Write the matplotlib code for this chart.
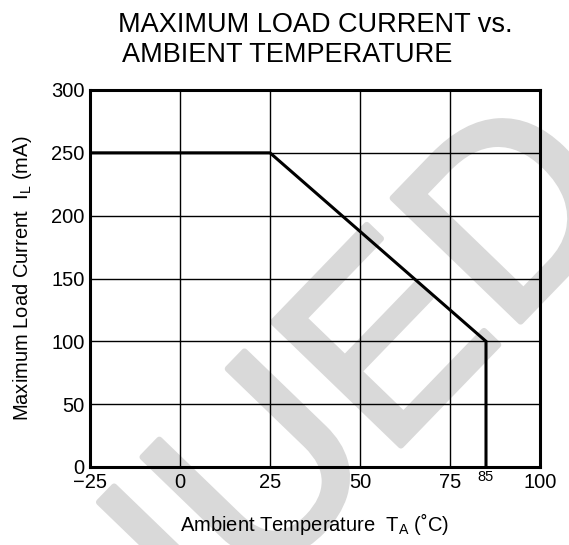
import matplotlib
matplotlib.use("Agg")
import matplotlib.pyplot as plt
import matplotlib.transforms as mtransforms
import matplotlib.patheffects as pe

plt.rcParams['font.family'] = ['Liberation Sans', 'DejaVu Sans']
plt.rcParams['mathtext.fontset'] = 'custom'
plt.rcParams['mathtext.rm'] = 'Liberation Sans'
plt.rcParams['axes.unicode_minus'] = True

# Derating curve (Ta in °C, I_L in mA)
temperatur = [-25, 25, 85, 85]
strom = [250, 250, 100, 0]

x_ticks = [-25, 0, 25, 50, 75, 100]
y_ticks = [0, 50, 100, 150, 200, 250, 300]
extra_tick = 85

fig = plt.figure(figsize=(5.69, 5.45), dpi=100)
ax = fig.add_axes([90 / 569, 1 - 467 / 545, 450 / 569, 377 / 545])
ax.set_facecolor('none')

# Watermark (mostly outside the canvas, only "...NUED" visible)
grau = '#d9d9d9'
ax.text(636 / 569, 1 - 202 / 545, "DISCONTINUED", transform=fig.transFigure,
        rotation=46, fontsize=186, color=grau, ha='right', va='baseline',
        rotation_mode='anchor', zorder=0, clip_on=False,
        path_effects=[pe.withStroke(linewidth=4.5, foreground=grau)])

ax.plot(temperatur, strom, color='black', linewidth=2.2, zorder=3,
        solid_joinstyle='miter')

ax.set_xlim(-25, 100)
ax.set_ylim(0, 300)
ax.set_xticks(x_ticks)
ax.set_yticks(y_ticks)
ax.grid(True, color='black', linewidth=1.0)
ax.tick_params(length=0, labelsize=14.5, pad=4, colors='black')
for s in ax.spines.values():
    s.set_linewidth(2.2)
    s.set_zorder(4)

trans = mtransforms.blended_transform_factory(ax.transData, ax.transAxes)
ax.text(extra_tick, -0.008, str(extra_tick), transform=trans, ha='center',
        va='top', fontsize=10.5)

ax.set_xlabel(r"Ambient Temperature  T$_\mathregular{A}$ (˚C)", fontsize=14.5,
              labelpad=14)
ax.set_ylabel(r"Maximum Load Current  I$_\mathregular{L}$ (mA)", fontsize=14.5,
              labelpad=12)

fig.text(118 / 569, 1 - 25 / 545, "MAXIMUM LOAD CURRENT vs.", fontsize=19.5,
         ha='left', va='center')
fig.text(122 / 569, 1 - 55 / 545, "AMBIENT TEMPERATURE", fontsize=19.5,
         ha='left', va='center')

fig.savefig("out.png", dpi=100)
